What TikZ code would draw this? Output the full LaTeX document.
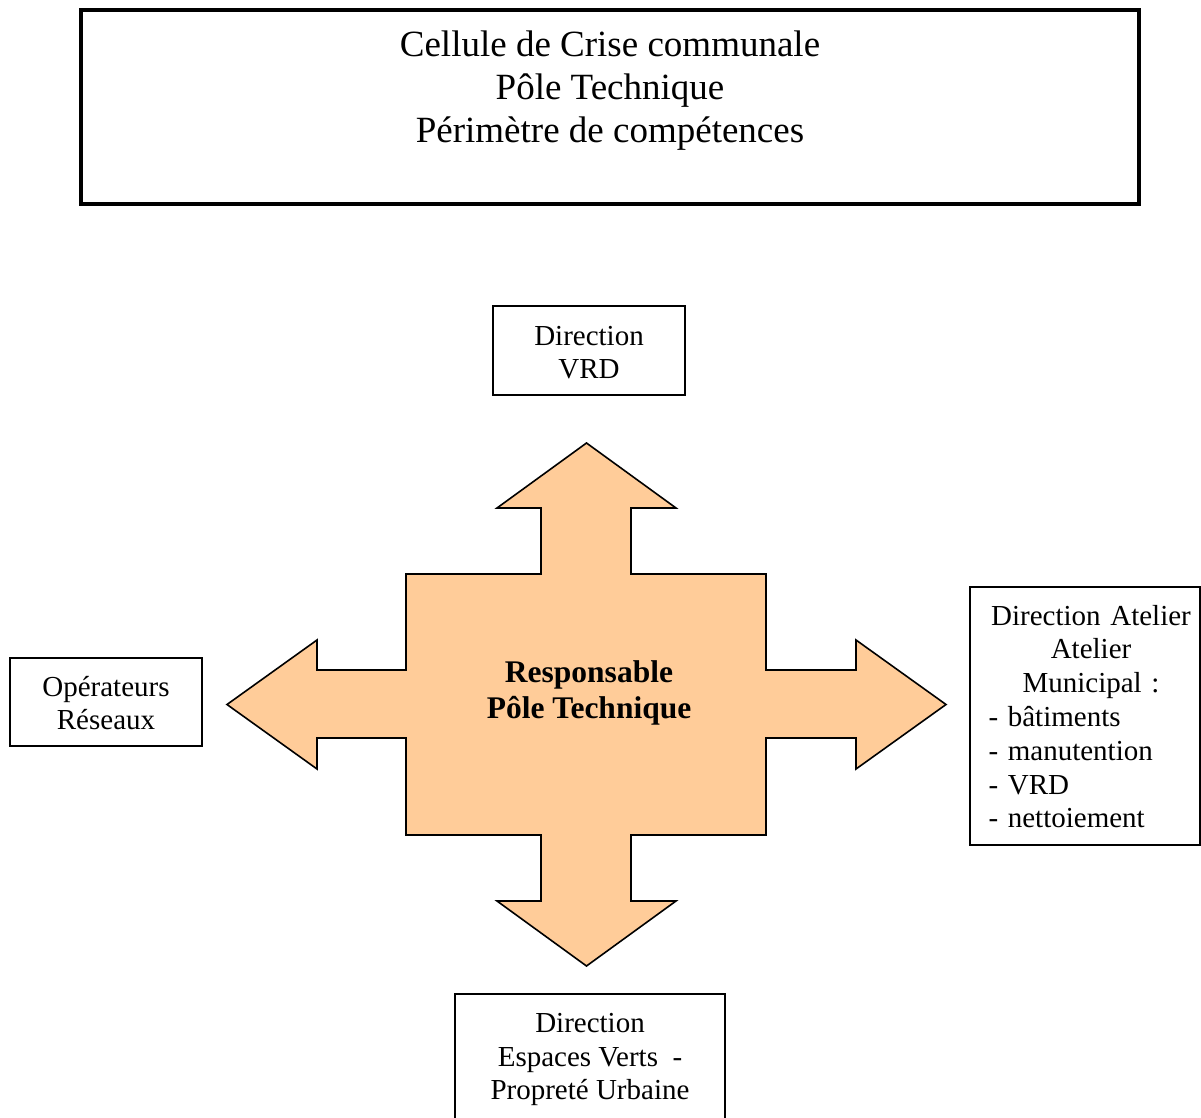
\documentclass[tikz,border=0pt]{standalone}
\usepackage{fontspec}
\setmainfont{Liberation Serif}
\definecolor{peach}{RGB}{255,204,153}
\tikzset{
  box/.style={draw=black, line width=1.6pt, fill=white, inner sep=0pt, align=center},
  boxtext/.style={font=\fontsize{29}{33.5}\selectfont},
  crossarrow/.style={draw=black, line width=1.6pt, fill=peach, line join=miter}
}
\begin{document}
\begin{tikzpicture}[x=1pt, y=-1pt]
\useasboundingbox (0,0) rectangle (1201,1118);
\clip (0,0) rectangle (1201,1118);

% title frame
\node[box, line width=3.2pt, minimum width=1058pt, minimum height=194pt] (title) at (610,107) {};
\node[align=center, inner sep=0pt, font=\fontsize{37}{43}\selectfont] (titletext) at (610,91)
  {Cellule de Crise communale\\Pôle Technique\\Périmètre de compétences};

% four-way arrow around the central square
\draw[crossarrow]
  (586.5,443) -- (676,508) -- (631,508) -- (631,574) -- (766,574) -- (766,670)
  -- (856,670) -- (856,640) -- (946,704.5) -- (856,769) -- (856,738) -- (766,738)
  -- (766,835) -- (631,835) -- (631,901) -- (676,901) -- (586.5,966) -- (497,901)
  -- (541,901) -- (541,835) -- (406,835) -- (406,738) -- (317,738) -- (317,769)
  -- (227,704.5) -- (317,640) -- (317,670) -- (406,670) -- (406,574) -- (541,574)
  -- (541,508) -- (497,508) -- cycle;
\node[align=center, inner sep=0pt, font=\fontsize{31.5}{36}\selectfont\bfseries] (centre) at (589,693)
  {Responsable\\Pôle Technique};

% surrounding boxes
\node[box, minimum width=192pt, minimum height=89pt] (vrd) at (589,350.5) {};
\node[boxtext, align=center, inner sep=0pt] (vrdtext) at (589,352.5) {Direction\\VRD};
\node[box, minimum width=192pt, minimum height=88pt] (reseaux) at (106,702) {};
\node[boxtext, align=center, inner sep=0pt] (reseauxtext) at (106,703) {Opérateurs\\Réseaux};
\node[box, minimum width=230pt, minimum height=258pt] (atelier) at (1085,716) {};
\node[inner sep=0pt, text width=205pt, font=\fontsize{29}{33.8}\selectfont] (ateliertext) at (1091,716.5)
  {\centering Direction Atelier\\Atelier\\Municipal :\par
   \raggedright - bâtiments\\- manutention\\- VRD\\- nettoiement\par};
\node[box, minimum width=270pt, minimum height=126pt] (espaces) at (590,1057) {};
\node[boxtext, align=center, inner sep=0pt] (espacestext) at (590,1059.5)
  {Direction\\Espaces Verts\ \ -\\Propreté Urbaine};
\end{tikzpicture}
\end{document}
